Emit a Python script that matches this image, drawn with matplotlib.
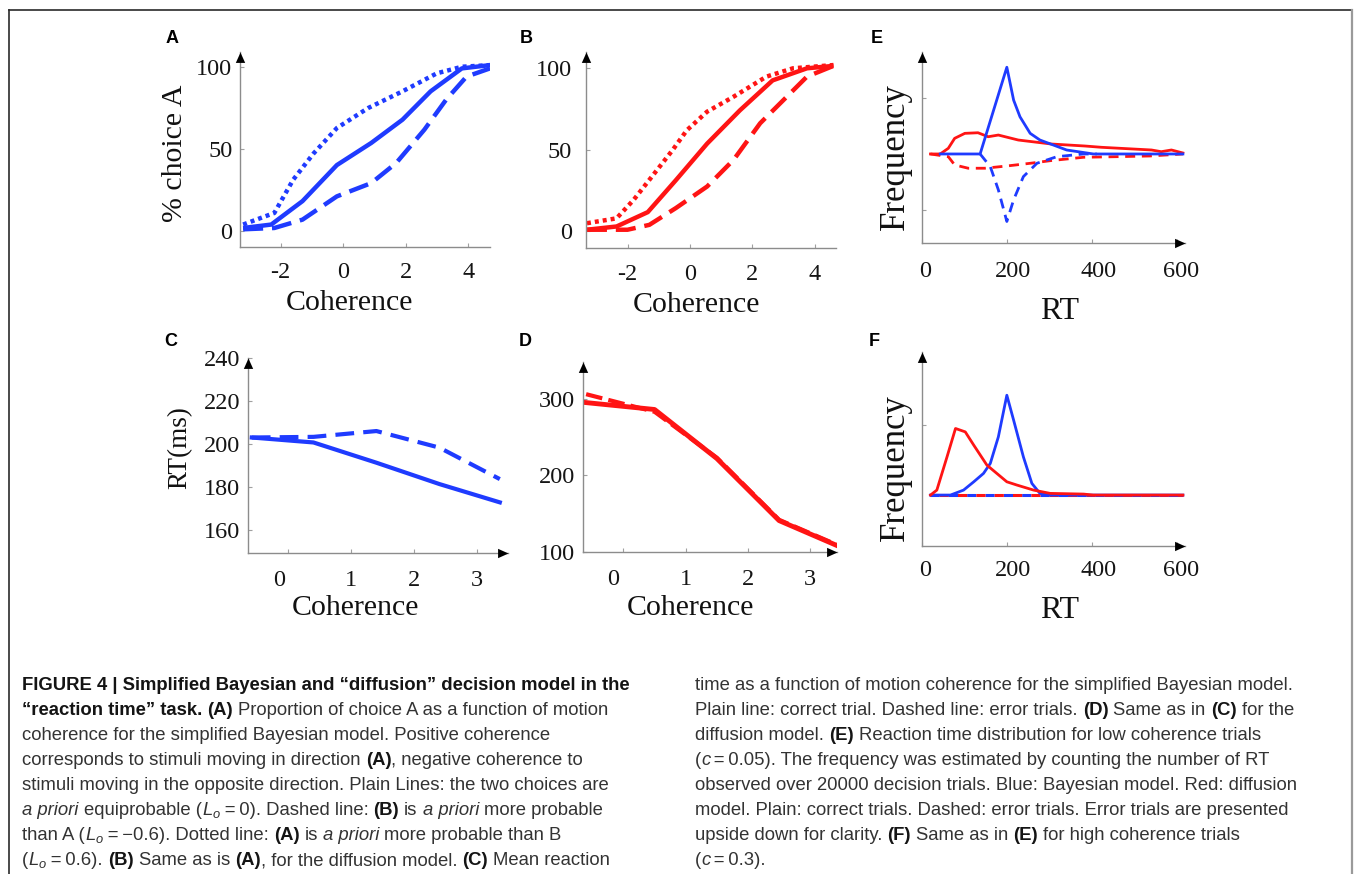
import matplotlib
matplotlib.use("Agg")
import matplotlib.pyplot as plt
import matplotlib.transforms as mtransforms
from matplotlib.path import Path
from matplotlib.lines import Line2D
from matplotlib.font_manager import FontProperties

# ---------------- data ----------------
# Panel A: Bayesian model, % choice A vs coherence
a_x_plain = [-3.2, -2.3, -1.3, -0.2, 0.9, 1.9, 2.8, 3.8, 4.7]
a_plain = [1.6, 3.7, 18, 40, 53.5, 67.7, 85, 99, 101]
a_x_dotted = [-3.2, -2.2, -1.6, -0.95, -0.2, 0.8, 1.9, 3.0, 3.8, 4.7]
a_dotted = [3.7, 10.8, 31, 47, 62.6, 74.8, 85, 96, 100, 101]
a_x_dashed = [-3.2, -2.2, -1.3, -0.2, 0.9, 1.7, 2.6, 3.3, 3.95, 4.7]
a_dashed = [0.8, 1.6, 6.7, 20.9, 29, 41.3, 61.6, 80, 94, 99]

# Panel B: diffusion model
b_x_plain = [-3.3, -2.35, -1.35, -0.45, 0.55, 1.6, 2.65, 3.75, 4.6]
b_plain = [1, 3, 11.8, 31.4, 53.8, 74.2, 92.6, 100, 101.5]
b_x_dotted = [-3.3, -2.35, -1.8, -1.3, -0.55, -0.1, 0.55, 1.4, 2.45, 3.3, 4.6]
b_dotted = [5, 8, 19.4, 31.6, 50, 62, 73.4, 82.6, 94.9, 100, 102]
b_x_dashed = [-3.3, -2.0, -1.3, -0.45, 0.55, 1.4, 2.25, 3.0, 3.75, 4.6]
b_dashed = [1, 1, 4, 14.3, 27.5, 43.9, 66.3, 80.6, 94.9, 101.5]

# Panel C: mean RT (ms), Bayesian model
c_x = [-0.58, 0.4, 1.4, 2.4, 3.36]
c_correct = [203.1, 200.8, 191.4, 181.5, 173.0]
c_error = [203.1, 203.4, 206.1, 198.4, 183.8]

# Panel D: mean RT, diffusion model
d_x = [-0.6, 0.5, 1.5, 2.5, 3.47]
d_correct = [295, 286, 222, 141, 107]
d_error = [306, 283, 223, 142, 108]

# Panel E: RT distributions, low coherence (arbitrary frequency units)
e_rt_bayes_ok = [43, 137, 200, 216, 231, 255, 278, 341, 404, 615]
e_bayes_ok = [0, 0, 0.87, 0.54, 0.373, 0.207, 0.14, 0.04, 0, 0]
e_rt_bayes_err = [137, 161, 180, 200, 216, 239, 271, 318, 381, 412]
e_bayes_err = [0, -0.127, -0.36, -0.677, -0.46, -0.227, -0.093, -0.027, 0, 0]
e_rt_diff_ok = [20, 43, 62, 77, 101, 132, 156, 180, 227, 305, 384, 423, 541, 564, 588, 615]
e_diff_ok = [0, 0, 0.057, 0.157, 0.207, 0.213, 0.173, 0.19, 0.14, 0.10, 0.08, 0.067, 0.04, 0.023, 0.04, 0.01]
e_rt_diff_err = [20, 62, 77, 109, 148, 201, 256, 303, 381, 460, 538, 615]
e_diff_err = [0, -0.027, -0.11, -0.143, -0.143, -0.12, -0.093, -0.067, -0.033, -0.027, -0.02, 0]

# Panel F: RT distributions, high coherence
f_rt_bayes_ok = [20, 67, 98, 122, 145, 161, 180, 200, 216, 239, 259, 278, 302, 615]
f_bayes_ok = [0, 0, 0.05, 0.133, 0.217, 0.317, 0.583, 1.0, 0.75, 0.383, 0.117, 0.017, 0, 0]
f_rt_diff_ok = [20, 35, 59, 79, 102, 122, 153, 200, 224, 263, 302, 381, 404, 615]
f_diff_ok = [0, 0.05, 0.383, 0.667, 0.633, 0.5, 0.3, 0.133, 0.1, 0.05, 0.017, 0.01, 0, 0]
f_rt_err = [20, 615]
f_bayes_err = [0, 0]
f_diff_err = [0, 0]

coh_ticks_ab = [-2, 0, 2, 4]
pct_ticks = [0, 50, 100]
coh_ticks_cd = [0, 1, 2, 3]
rt_ticks_c = [160, 180, 200, 220, 240]
rt_ticks_d = [100, 200, 300]
rt_hist_ticks = [0, 200, 400, 600]

TS = "\u2009"  # thin space
caption_left = [
    [("b", "FIGURE 4 | Simplified Bayesian and \u201cdiffusion\u201d decision model in the")],
    [("b", "\u201creaction time\u201d task. "), ("b", "(A)"), ("n", " Proportion of choice A as a function of motion")],
    [("n", "coherence for the simplified Bayesian model. Positive coherence")],
    [("n", "corresponds to stimuli moving in direction "), ("b", "(A)"), ("n", ", negative coherence to")],
    [("n", "stimuli moving in the opposite direction. Plain Lines: the two choices are")],
    [("i", "a priori"), ("n", " equiprobable ("), ("m", r"$L_o$"), ("n", TS + "=" + TS + "0). Dashed line: "),
     ("b", "(B)"), ("n", " is "), ("i", "a priori"), ("n", " more probable")],
    [("n", "than A ("), ("m", r"$L_o$"), ("n", TS + "=" + TS + "\u22120.6). Dotted line: "), ("b", "(A)"),
     ("n", " is "), ("i", "a priori"), ("n", " more probable than B")],
    [("n", "("), ("m", r"$L_o$"), ("n", TS + "=" + TS + "0.6). "), ("b", "(B)"), ("n", " Same as is "),
     ("b", "(A)"), ("n", ", for the diffusion model. "), ("b", "(C)"), ("n", " Mean reaction")],
]
caption_right = [
    [("n", "time as a function of motion coherence for the simplified Bayesian model.")],
    [("n", "Plain line: correct trial. Dashed line: error trials. "), ("b", "(D)"), ("n", " Same as in "),
     ("b", "(C)"), ("n", " for the")],
    [("n", "diffusion model. "), ("b", "(E)"), ("n", " Reaction time distribution for low coherence trials")],
    [("n", "("), ("i", "c"), ("n", TS + "=" + TS + "0.05). The frequency was estimated by counting the number of RT")],
    [("n", "observed over 20000 decision trials. Blue: Bayesian model. Red: diffusion")],
    [("n", "model. Plain: correct trials. Dashed: error trials. Error trials are presented")],
    [("n", "upside down for clarity. "), ("b", "(F)"), ("n", " Same as in "), ("b", "(E)"),
     ("n", " for high coherence trials")],
    [("n", "("), ("i", "c"), ("n", TS + "=" + TS + "0.3).")],
]

# ---------------- style ----------------
W, H = 1354, 874
BLUE = "#1f3bff"
RED = "#ff1414"
SERIF = "Liberation Serif"
SANS = "Liberation Sans"
plt.rcParams["font.family"] = SERIF
plt.rcParams["axes.unicode_minus"] = False
plt.rcParams["mathtext.fontset"] = "custom"
plt.rcParams["mathtext.rm"] = SANS
plt.rcParams["mathtext.it"] = SANS + ":italic"
plt.rcParams["mathtext.bf"] = SANS + ":bold"

fig = plt.figure(figsize=(W / 100, H / 100), dpi=100)

UP = Path([(0, 0), (-0.45, -1.0), (0.45, -1.0), (0, 0)],
          [Path.MOVETO, Path.LINETO, Path.LINETO, Path.CLOSEPOLY])
RIGHT = Path([(0, 0), (-1.0, 0.45), (-1.0, -0.45), (0, 0)],
             [Path.MOVETO, Path.LINETO, Path.LINETO, Path.CLOSEPOLY])


def make_axes(l, r, t, b):
    return fig.add_axes([l / W, 1 - b / H, (r - l) / W, (b - t) / H])


def style(ax, xlim, ylim, xticks, yticks, xpad, ypad, xarrow=True, ylabels=True):
    ax.set_xlim(xlim)
    ax.set_ylim(ylim)
    ax.patch.set_alpha(0)
    for s in ("top", "right"):
        ax.spines[s].set_visible(False)
    for s in ("left", "bottom"):
        ax.spines[s].set_color("#8c8c8c")
        ax.spines[s].set_linewidth(1.0)
    ax.set_xticks(xticks)
    ax.set_yticks(yticks)
    ax.tick_params(direction="in", length=3, width=0.8, color="#a0a0a0",
                   labelsize=17.5, labelcolor="#151515")
    ax.tick_params(axis="x", pad=xpad)
    ax.tick_params(axis="y", pad=ypad)
    if not ylabels:
        ax.set_yticklabels([])
    ax.plot([0], [1], transform=ax.transAxes, marker=UP, ms=15, mew=0,
            color="k", clip_on=False, zorder=6)
    if xarrow:
        ax.plot([1], [0], transform=ax.transAxes, marker=RIGHT, ms=15, mew=0,
                color="k", clip_on=False, zorder=6)


def shift_xticklabels(ax, shifts_px):
    labels = ax.get_xticklabels()
    for lab, dx in zip(labels, shifts_px):
        if dx:
            off = mtransforms.ScaledTranslation(dx / 100.0, 0, fig.dpi_scale_trans)
            lab.set_transform(lab.get_transform() + off)


def place_label(ax, which, text, px, py, size):
    bb = ax.get_position()
    fx, fy = px / W, 1 - py / H
    axx = (fx - bb.x0) / bb.width
    axy = (fy - bb.y0) / bb.height
    if which == "x":
        ax.set_xlabel(text, fontsize=size, color="#111")
        ax.xaxis.set_label_coords(axx, axy)
        ax.xaxis.label.set_va("center")
        ax.xaxis.label.set_ha("center")
    else:
        ax.set_ylabel(text, fontsize=size, color="#111")
        ax.yaxis.set_label_coords(axx, axy)
        ax.yaxis.label.set_va("center")
        ax.yaxis.label.set_ha("center")


# ---- Panel A ----
axA = make_axes(240, 490, 52, 247)
style(axA, (-3.3, 4.7), (-10, 109), coh_ticks_ab, pct_ticks, 10.5, 5.5, xarrow=False)
axA.plot(a_x_plain, a_plain, color=BLUE, lw=3.2, solid_capstyle="butt")
axA.plot(a_x_dotted, a_dotted, color=BLUE, lw=3.2, linestyle=(0, (0.9, 0.9)), dash_capstyle="butt")
axA.plot(a_x_dashed, a_dashed, color=BLUE, lw=3.2, linestyle=(0, (4.5, 2.0)), dash_capstyle="butt")
place_label(axA, "x", "Coherence", 349, 303, 21.5)
place_label(axA, "y", "% choice A", 175, 153, 21.5)

# ---- Panel B ----
axB = make_axes(586, 836, 52, 248)
style(axB, (-3.33, 4.68), (-10.2, 110), coh_ticks_ab, pct_ticks, 11.5, 10, xarrow=False)
axB.plot(b_x_plain, b_plain, color=RED, lw=3.2, solid_capstyle="butt")
axB.plot(b_x_dotted, b_dotted, color=RED, lw=3.2, linestyle=(0, (0.9, 0.9)), dash_capstyle="butt")
axB.plot(b_x_dashed, b_dashed, color=RED, lw=3.2, linestyle=(0, (4.5, 2.0)), dash_capstyle="butt")
place_label(axB, "x", "Coherence", 696, 305, 21.5)

# ---- Panel C ----
axC = make_axes(248, 508, 358, 553)
style(axC, (-0.64, 3.49), (149.5, 239.5), coh_ticks_cd, rt_ticks_c, 12, 5.5)
axC.plot(c_x, c_correct, color=BLUE, lw=3.0)
axC.plot(c_x, c_error, color=BLUE, lw=3.0, linestyle=(0, (4.5, 2.2)), dash_capstyle="butt")
place_label(axC, "x", "Coherence", 355, 608, 21.5)
place_label(axC, "y", "RT(ms)", 180, 448, 19.5)
shift_xticklabels(axC, [-9, 0, 0, 0])

# ---- Panel D ----
axD = make_axes(583, 837, 362, 552)
style(axD, (-0.65, 3.43), (100, 348), coh_ticks_cd, rt_ticks_d, 12, 5.5)
axD.plot(d_x, d_error, color=RED, lw=3.0, linestyle=(0, (4.0, 1.5)), dash_capstyle="butt")
axD.plot(d_x, d_correct, color=RED, lw=3.5)
place_label(axD, "x", "Coherence", 690, 608, 21.5)
shift_xticklabels(axD, [-10, 0, 0, 0])

# ---- Panel E ----
axE = make_axes(922, 1185, 52, 243)
style(axE, (0, 620), (-0.893, 1.023), rt_hist_ticks, [-0.56, 0.56], 13, 5, ylabels=False)
axE.plot(e_rt_diff_ok, e_diff_ok, color=RED, lw=2.0)
axE.plot(e_rt_diff_err, e_diff_err, color=RED, lw=2.0, linestyle=(0, (3.6, 2.4)))
axE.plot(e_rt_bayes_ok, e_bayes_ok, color=BLUE, lw=2.0)
axE.plot(e_rt_bayes_err, e_bayes_err, color=BLUE, lw=2.0, linestyle=(0, (3.6, 2.4)))
place_label(axE, "y", "Frequency", 895, 157, 25)
place_label(axE, "x", "RT", 1060, 311, 23)
shift_xticklabels(axE, [3, 6, 7, 5])

# ---- Panel F ----
axF = make_axes(922, 1185, 352, 546)
style(axF, (0, 620), (-0.51, 1.433), rt_hist_ticks, [0.7], 10, 5, ylabels=False)
axF.plot(f_rt_err, f_bayes_err, color=BLUE, lw=2.2, linestyle=(0, (3.0, 3.0)))
axF.plot(f_rt_err, f_diff_err, color=RED, lw=2.2, linestyle=(3.0, (3.0, 3.0)))
axF.plot(f_rt_bayes_ok, f_bayes_ok, color=BLUE, lw=2.0)
axF.plot(f_rt_diff_ok, f_diff_ok, color=RED, lw=2.0)
place_label(axF, "y", "Frequency", 895, 468, 25)
place_label(axF, "x", "RT", 1060, 610, 23)
shift_xticklabels(axF, [3, 6, 7, 5])

# ---- panel letters ----
for letter, (px, py) in {"A": (172.5, 38.5), "B": (526, 38.5), "E": (877, 38.5),
                         "C": (171, 342), "D": (525.5, 342), "F": (874, 342)}.items():
    fig.text(px / W, 1 - py / H, letter, family=SANS, weight="bold", fontsize=13,
             ha="center", va="center", color="k")

# ---- frame ----
fig.add_artist(Line2D([8.5 / W, 8.5 / W], [0, 1 - 9.5 / H], transform=fig.transFigure,
                      color="#2a2a2a", lw=1.2))
fig.add_artist(Line2D([8.5 / W, 1351.5 / W], [1 - 9.5 / H, 1 - 9.5 / H], transform=fig.transFigure,
                      color="#2a2a2a", lw=1.2))
fig.add_artist(Line2D([1351.5 / W, 1351.5 / W], [0, 1 - 9.5 / H], transform=fig.transFigure,
                      color="#9a9a9a", lw=1.6))

# ---- caption (rich text drawn chunk by chunk) ----
CAP_SIZE = 13.3
CAP_FAMILY = [SANS, "DejaVu Sans"]
renderer = fig.canvas.get_renderer()
fp = FontProperties(family=SANS, size=CAP_SIZE)
w1 = renderer.get_text_width_height_descent("n n", fp, ismath=False)[0]
w2 = renderer.get_text_width_height_descent("nn", fp, ismath=False)[0]
SPACE = w1 - w2


def rich_line(x, y, chunks):
    for kind, s in chunks:
        lead = len(s) - len(s.lstrip(" "))
        trail = len(s) - len(s.rstrip(" "))
        core = s.strip(" ")
        x += lead * SPACE
        if core:
            kw = dict(fontsize=CAP_SIZE, family=CAP_FAMILY, color="#333333")
            if kind == "b":
                kw.update(weight="bold", color="#141414")
            elif kind == "i":
                kw.update(style="italic")
            t = fig.text(x / W, 1 - y / H, core, ha="left", va="baseline", **kw)
            x += t.get_window_extent(renderer).width
        x += trail * SPACE


for i, line in enumerate(caption_left):
    rich_line(22, 690 + 25 * i, line)
for i, line in enumerate(caption_right):
    rich_line(695, 690 + 25 * i, line)

fig.savefig("out.png", dpi=100)
